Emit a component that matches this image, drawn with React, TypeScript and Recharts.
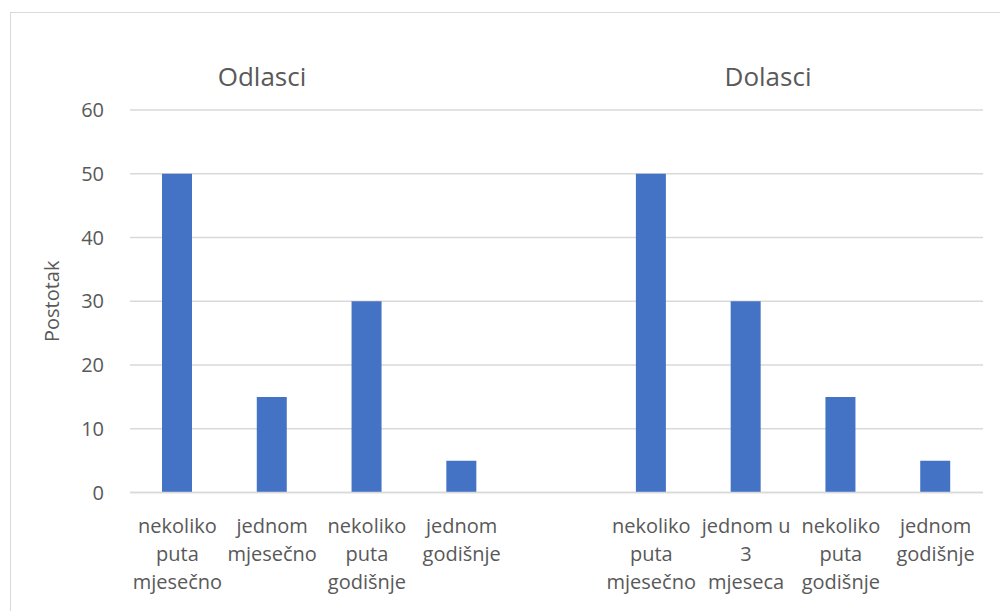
import React from "react";
import { BarChart, Bar, XAxis, YAxis, CartesianGrid } from "recharts";

const categories = [
  "nekoliko\nputa\nmjesečno",
  "jednom\nmjesečno",
  "nekoliko\nputa\ngodišnje",
  "jednom\ngodišnje",
  "",
  "nekoliko\nputa\nmjesečno",
  "jednom u\n3\nmjeseca",
  "nekoliko\nputa\ngodišnje",
  "jednom\ngodišnje",
];
const values: (number | null)[] = [50, 15, 30, 5, null, 50, 30, 15, 5];
const yTicks = [0, 10, 20, 30, 40, 50, 60];
const groupTitles = ["Odlasci", "Dolasci"];
const yLabel = "Postotak";

const data = categories.map((c, i) => ({ key: i, cat: c, v: values[i] }));

const FONT = "Open Sans, Lato, sans-serif";
const TEXT = "#595959";

const CatTick = (props: any) => {
  const { x, y, payload } = props;
  const label: string = categories[payload.index] ?? "";
  const lines = label ? label.split("\n") : [];
  return (
    <g>
      {lines.map((l, i) => (
        <text
          key={i}
          x={x}
          y={y + 32 + i * 28}
          textAnchor="middle"
          fill={TEXT}
          fontSize={20}
          fontFamily={FONT}
        >
          {l}
        </text>
      ))}
    </g>
  );
};

const titleStyle: React.CSSProperties = {
  position: "absolute",
  top: 58,
  width: 200,
  textAlign: "center",
  fontFamily: FONT,
  fontSize: 26,
  color: TEXT,
  lineHeight: "36px",
};

export default function App() {
  return (
    <div
      style={{
        position: "absolute",
        left: 0,
        top: 0,
        width: 1000,
        height: 611,
        overflow: "hidden",
        background: "#fff",
      }}
    >
      <div
        style={{
          position: "absolute",
          left: 10,
          top: 12,
          width: 1100,
          height: 800,
          border: "1px solid #d9d9d9",
        }}
      />
      <div style={{ ...titleStyle, left: 162 }}>{groupTitles[0]}</div>
      <div style={{ ...titleStyle, left: 668 }}>{groupTitles[1]}</div>
      <div style={{ position: "absolute", left: 0, top: 0 }}>
        <BarChart
          width={1000}
          height={611}
          data={data}
          margin={{ top: 110, right: 17, bottom: 0, left: 0 }}
          barCategoryGap={0}
        >
          <CartesianGrid vertical={false} stroke="#d9d9d9" strokeWidth={1.5} />
          <XAxis
            dataKey="key"
            type="category"
            tick={<CatTick />}
            tickLine={false}
            axisLine={{ stroke: "#d9d9d9", strokeWidth: 1.5 }}
            interval={0}
            height={118.5}
          />
          <YAxis
            domain={[0, 60]}
            ticks={yTicks}
            width={130}
            tickLine={false}
            axisLine={false}
            tickMargin={20}
            tick={{ fill: TEXT, fontSize: 20, fontFamily: FONT }}
            label={{
              value: yLabel,
              angle: -90,
              position: "insideLeft",
              dx: 47,
              fill: TEXT,
              fontSize: 20,
              fontFamily: FONT,
              style: { textAnchor: "middle" },
            }}
          />
          <Bar dataKey="v" fill="#4472C4" barSize={30} isAnimationActive={false} />
        </BarChart>
      </div>
    </div>
  );
}
